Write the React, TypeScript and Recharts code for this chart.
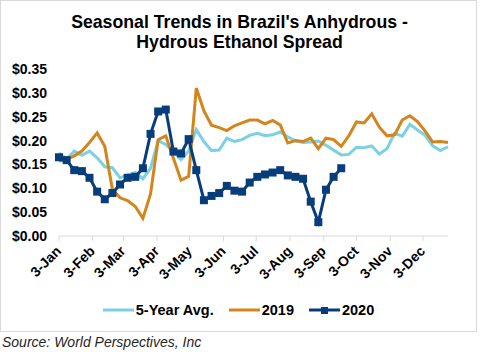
import { LineChart, Line, XAxis, YAxis, Legend } from "recharts";

// days counted from 3-Jan, one point per week
const weekDays = [
  0, 7, 14, 21, 28, 35, 42, 49, 56, 63, 70, 77, 84, 91, 98, 105, 112, 119, 126, 133, 140, 147, 154, 161, 168, 175,
  182, 189, 196, 203, 210, 217, 224, 231, 238, 245, 252, 259, 266, 273, 280, 287, 294, 301, 308, 315, 322, 329, 336,
  343, 350, 357,
];
const monthTicks = [0, 31, 59, 90, 120, 151, 181, 212, 243, 273, 304, 334];
const monthLabels = ["3-Jan", "3-Feb", "3-Mar", "3-Apr", "3-May", "3-Jun", "3-Jul", "3-Aug", "3-Sep", "3-Oct", "3-Nov", "3-Dec"];
const yTicks = [0, 0.05, 0.1, 0.15, 0.2, 0.25, 0.3, 0.35];
const seriesOrder = ["avg5", "y2019", "y2020"];

const avg5 = [
  0.174, 0.162, 0.178, 0.169, 0.178, 0.164, 0.145, 0.143, 0.122, 0.128, 0.133, 0.12, 0.142, 0.2, 0.192, 0.176, 0.16,
  0.178, 0.223, 0.198, 0.179, 0.18, 0.205, 0.198, 0.202, 0.211, 0.215, 0.21, 0.212, 0.218, 0.208, 0.199, 0.196, 0.197,
  0.199, 0.19, 0.18, 0.17, 0.171, 0.186, 0.185, 0.189, 0.172, 0.183, 0.215, 0.209, 0.234, 0.222, 0.211, 0.189, 0.179,
  0.187,
];
const y2019 = [
  0.157, 0.16, 0.168, 0.178, 0.196, 0.216, 0.188, 0.098, 0.08, 0.074, 0.062, 0.037, 0.088, 0.202, 0.21, 0.163, 0.117,
  0.125, 0.31, 0.262, 0.232, 0.227, 0.221, 0.231, 0.237, 0.243, 0.243, 0.235, 0.242, 0.233, 0.195, 0.2, 0.198, 0.205,
  0.183, 0.205, 0.202, 0.188, 0.21, 0.239, 0.237, 0.256, 0.228, 0.21, 0.212, 0.243, 0.252, 0.24, 0.22, 0.197, 0.198,
  0.196,
];
const y2020 = [
  0.165, 0.159, 0.138, 0.136, 0.122, 0.093, 0.077, 0.09, 0.108, 0.122, 0.124, 0.142, 0.214, 0.261, 0.265, 0.177, 0.173,
  0.203, 0.138, 0.075, 0.084, 0.09, 0.105, 0.095, 0.093, 0.112, 0.124, 0.129, 0.133, 0.138, 0.127, 0.124, 0.12, 0.072,
  0.029, 0.097, 0.124, 0.142,
];

const data = weekDays.map((day, i) => ({
  day,
  avg5: avg5[i],
  y2019: y2019[i],
  y2020: i < y2020.length ? y2020[i] : null,
}));

const FONT = "'Liberation Sans', Arial, sans-serif";
const AVG = "#7bd0e1";
const ORANGE = "#d5841b";
const NAVY = "#083d7c";

function MonthTick({ x, y, payload }: any) {
  const i = monthTicks.indexOf(payload.value);
  const tx = x + 3;
  const ty = y + 9;
  return (
    <text
      x={tx}
      y={ty}
      transform={`rotate(-45, ${tx}, ${ty})`}
      textAnchor="end"
      fontSize={14}
      fontWeight="bold"
      fontFamily={FONT}
      fill="#000"
    >
      {monthLabels[i]}
    </text>
  );
}

function SquareDot({ cx, cy, value }: any) {
  if (value == null || cx == null || cy == null) return null;
  return <rect x={cx - 4} y={cy - 4} width={8} height={8} fill={NAVY} />;
}

function LegendContent({ payload }: any) {
  const items = [...(payload || [])].sort(
    (a: any, b: any) => seriesOrder.indexOf(a.dataKey) - seriesOrder.indexOf(b.dataKey)
  );
  return (
    <div style={{ display: "flex", justifyContent: "center", alignItems: "center", height: 22 }}>
      {items.map((entry: any, i: number) => (
        <div key={entry.value} style={{ display: "flex", alignItems: "center", marginLeft: i ? 15 : 0 }}>
          <svg width={31} height={10}>
            <line x1={0} y1={5} x2={31} y2={5} stroke={entry.color} strokeWidth={3} />
            {entry.dataKey === "y2020" && <rect x={12} y={2} width={7} height={7} fill={NAVY} />}
          </svg>
          <span style={{ marginLeft: 2, fontSize: 14.5, fontWeight: "bold", fontFamily: FONT, color: "#000" }}>
            {entry.value}
          </span>
        </div>
      ))}
    </div>
  );
}

export default function App() {
  return (
    <div style={{ position: "absolute", left: 0, top: 0, fontFamily: FONT }}>
      <div
        style={{
          position: "relative",
          width: 477,
          height: 332,
          border: "1px solid #d9d9d9",
          boxSizing: "border-box",
        }}
      >
        <div
          style={{
            position: "absolute",
            top: 10.6,
            left: 0,
            width: 477,
            textAlign: "center",
            fontSize: 17.7,
            lineHeight: "20px",
            fontWeight: "bold",
            color: "#000",
          }}
        >
          Seasonal Trends in Brazil's Anhydrous -<br />
          Hydrous Ethanol Spread
        </div>
        <LineChart width={475} height={330} data={data} margin={{ top: 68, right: 28, left: 0, bottom: 23 }}>
          <XAxis
            dataKey="day"
            type="number"
            domain={[0, 357]}
            ticks={monthTicks}
            tick={<MonthTick />}
            tickSize={5}
            interval={0}
            height={50}
            axisLine={{ stroke: "#d9d9d9" }}
            tickLine={{ stroke: "#d9d9d9" }}
          />
          <YAxis
            domain={[0, 0.35]}
            ticks={yTicks}
            width={58}
            axisLine={false}
            tickLine={false}
            tickMargin={6}
            tickFormatter={(v: number) => `$${v.toFixed(2)}`}
            tick={{ fill: "#000", fontSize: 14, fontWeight: "bold", fontFamily: FONT }}
          />
          <Legend
            verticalAlign="bottom"
            content={<LegendContent />}
            wrapperStyle={{ left: 0, width: 475, top: 298, bottom: "auto" }}
          />
          <Line
            dataKey="avg5"
            name="5-Year Avg."
            stroke={AVG}
            strokeWidth={3}
            dot={false}
            isAnimationActive={false}
          />
          <Line
            dataKey="y2019"
            name="2019"
            stroke={ORANGE}
            strokeWidth={3}
            dot={false}
            isAnimationActive={false}
          />
          <Line
            dataKey="y2020"
            name="2020"
            stroke={NAVY}
            strokeWidth={3}
            dot={<SquareDot />}
            activeDot={false}
            connectNulls={false}
            isAnimationActive={false}
          />
        </LineChart>
      </div>
      <div style={{ marginTop: 2, marginLeft: 2, fontSize: 14, lineHeight: "16px", fontStyle: "italic", color: "#262626" }}>
        Source: World Perspectives, Inc
      </div>
    </div>
  );
}
